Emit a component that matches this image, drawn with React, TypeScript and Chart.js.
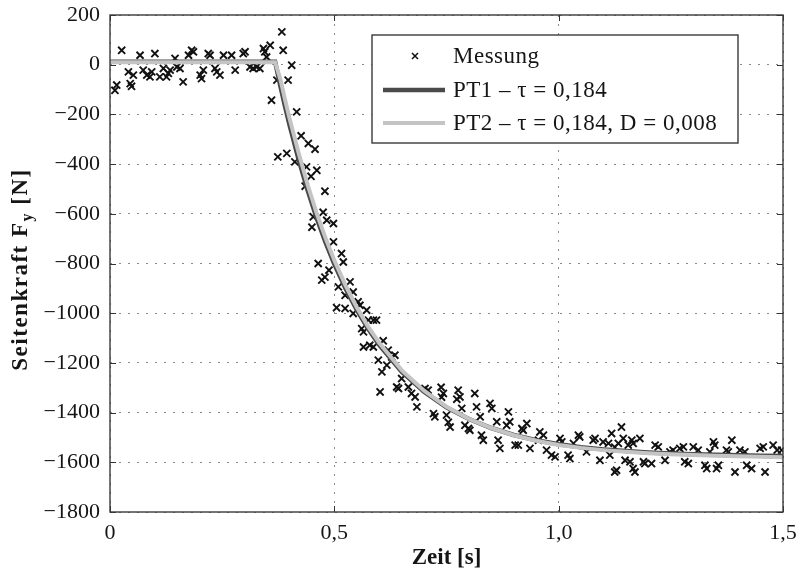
import React, { useEffect, useRef } from "react";
import { Chart, registerables } from "chart.js";

Chart.register(...registerables);

// Measurement (Messung): time [s] and side force [N]
const measTime = [
  0.011, 0.015, 0.026, 0.041, 0.045, 0.048, 0.052, 0.067, 0.074, 0.082, 0.089, 0.093, 0.1, 0.111, 0.119, 0.126, 0.13, 0.134, 0.145, 0.149,
  0.156, 0.163, 0.175, 0.182, 0.186, 0.201, 0.204, 0.208, 0.219, 0.223, 0.234, 0.238, 0.245, 0.253, 0.271, 0.279, 0.297, 0.301, 0.312, 0.319,
  0.327, 0.334, 0.342, 0.345, 0.349, 0.357, 0.36, 0.372, 0.374, 0.383, 0.386, 0.394, 0.397, 0.405, 0.412, 0.416, 0.426, 0.438, 0.442, 0.448,
  0.435, 0.457, 0.461, 0.479, 0.453, 0.475, 0.483, 0.498, 0.45, 0.498, 0.516, 0.52, 0.464, 0.488, 0.479, 0.472, 0.509, 0.535, 0.524, 0.542,
  0.553, 0.557, 0.505, 0.524, 0.542, 0.572, 0.576, 0.587, 0.594, 0.561, 0.565, 0.609, 0.62, 0.565, 0.579, 0.587, 0.598, 0.617, 0.606, 0.628,
  0.635, 0.65, 0.639, 0.643, 0.602, 0.665, 0.672, 0.68, 0.684, 0.702, 0.709, 0.738, 0.743, 0.739, 0.721, 0.724, 0.754, 0.75, 0.758, 0.773,
  0.776, 0.78, 0.784, 0.813, 0.817, 0.825, 0.847, 0.851, 0.791, 0.799, 0.802, 0.828, 0.832, 0.862, 0.865, 0.869, 0.888, 0.891, 0.884, 0.903,
  0.91, 0.918, 0.921, 0.929, 0.936, 0.958, 0.966, 0.955, 0.973, 0.984, 0.992, 1.003, 1.007, 1.021, 1.025, 1.044, 1.047, 1.033, 1.062, 1.077,
  1.081, 1.092, 1.099, 1.111, 1.118, 1.125, 1.114, 1.14, 1.125, 1.129, 1.133, 1.144, 1.155, 1.163, 1.166, 1.181, 1.148, 1.159, 1.166, 1.17,
  1.189, 1.192, 1.207, 1.215, 1.222, 1.248, 1.255, 1.237, 1.281, 1.289, 1.27, 1.278, 1.3, 1.311, 1.326, 1.33, 1.337, 1.345, 1.348, 1.356,
  1.352, 1.374, 1.378, 1.386, 1.393, 1.404, 1.415, 1.419, 1.43, 1.449, 1.456, 1.46, 1.478, 1.487, 1.497,
];
const measForce = [
  -103, -82, 58, -29, -76, -87, -42, 38, -22, -42, -49, -29, 45, -49, -15, -49, -35, -22, 25, -9,
  -15, -69, 38, 58, 52, -42, -56, -22, 45, 38, -15, -29, -42, 38, 38, -22, 45, 52, -9, -15,
  -9, -15, 65, 52, 31, 78, -143, -62, -371, 132, 58, -357, -62, -2, -391, -190, -286, -411, -317, -449,
  -489, -340, -425, -509, -612, -594, -626, -639, -654, -713, -760, -794, -800, -827, -855, -867, -894, -874, -928, -915,
  -954, -968, -978, -981, -1001, -988, -1028, -1028, -1028, -1062, -1075, -1111, -1149, -1136, -1129, -1136, -1189, -1209, -1236, -1176,
  -1169, -1263, -1297, -1303, -1317, -1297, -1323, -1337, -1377, -1303, -1310, -1298, -1323, -1338, -1404, -1417, -1439, -1410, -1458, -1346,
  -1310, -1337, -1383, -1323, -1377, -1417, -1363, -1383, -1451, -1464, -1471, -1491, -1511, -1437, -1511, -1544, -1397, -1437, -1451, -1531,
  -1531, -1464, -1471, -1444, -1544, -1478, -1491, -1511, -1551, -1571, -1578, -1504, -1518, -1571, -1585, -1491, -1498, -1524, -1558, -1511,
  -1504, -1592, -1518, -1524, -1484, -1539, -1571, -1458, -1639, -1632, -1524, -1504, -1531, -1511, -1524, -1504, -1592, -1598, -1625, -1639,
  -1598, -1605, -1605, -1531, -1538, -1558, -1551, -1592, -1598, -1605, -1544, -1538, -1538, -1551, -1612, -1625, -1558, -1518, -1531, -1612,
  -1625, -1551, -1558, -1511, -1639, -1551, -1558, -1612, -1625, -1544, -1538, -1639, -1531, -1551, -1551,
];

// Model curves
const modelTime = [
  0, 0.368, 0.38, 0.39, 0.4, 0.42, 0.44, 0.46, 0.48, 0.5, 0.525, 0.55, 0.575, 0.6, 0.65, 0.7,
  0.75, 0.8, 0.85, 0.9, 0.95, 1.0, 1.05, 1.1, 1.15, 1.2, 1.25, 1.3, 1.35, 1.4, 1.45, 1.5,
];
const pt1Force = [
  12, 12, -88, -167, -242, -379, -503, -614, -713, -802, -901, -987, -1062, -1127, -1235, -1316,
  -1379, -1426, -1462, -1490, -1511, -1527, -1539, -1548, -1555, -1561, -1565, -1568, -1570, -1572, -1574, -1575,
];
const pt2Force = [
  10, 10, -60, -140, -215, -352, -480, -594, -696, -787, -888, -976, -1053, -1119, -1229, -1312,
  -1377, -1425, -1462, -1491, -1513, -1530, -1542, -1551, -1558, -1564, -1568, -1571, -1574, -1576, -1578, -1580,
];

const xTicks = [0, 0.5, 1.0, 1.5];
const xTickLabels = ["0", "0,5", "1,0", "1,5"];
const seriesLabels = ["Messung", "PT1 \u2013 \u03c4 = 0,184", "PT2 \u2013 \u03c4 = 0,184, D = 0,008"];

const SERIF = "'Liberation Serif', 'DejaVu Serif', serif";
const TEXT = "#151515";

const fmtY = (v: number) => (v < 0 ? "\u2212" + Math.abs(v) : String(v));

const framePlugin = {
  id: "frame",
  afterDraw(chart: any) {
    const { ctx, chartArea: a, scales } = chart;
    ctx.save();
    // ticks pointing inward on all four sides
    ctx.strokeStyle = "#333";
    ctx.lineWidth = 1;
    const tl = 6;
    scales.x.ticks.forEach((t: any) => {
      const px = Math.round(scales.x.getPixelForValue(t.value)) + 0.5;
      ctx.beginPath();
      ctx.moveTo(px, a.bottom);
      ctx.lineTo(px, a.bottom - tl);
      ctx.moveTo(px, a.top);
      ctx.lineTo(px, a.top + tl);
      ctx.stroke();
    });
    scales.y.ticks.forEach((t: any) => {
      const py = Math.round(scales.y.getPixelForValue(t.value)) + 0.5;
      ctx.beginPath();
      ctx.moveTo(a.left, py);
      ctx.lineTo(a.left + tl, py);
      ctx.moveTo(a.right, py);
      ctx.lineTo(a.right - tl, py);
      ctx.stroke();
    });
    // box
    ctx.strokeStyle = "#3a3a3a";
    ctx.lineWidth = 1.4;
    ctx.strokeRect(a.left, a.top, a.right - a.left, a.bottom - a.top);

    // y axis title with subscript
    const cy = (a.top + a.bottom) / 2 + 6;
    ctx.translate(21, cy);
    ctx.rotate(-Math.PI / 2);
    ctx.fillStyle = TEXT;
    ctx.textBaseline = "middle";
    try {
      (ctx as any).letterSpacing = "1.5px";
    } catch (e) {}
    const big = "bold 23px " + SERIF;
    const small = "bold 16px " + SERIF;
    const p1 = "Seitenkraft F";
    const p2 = "y";
    const p3 = " [N]";
    ctx.font = big;
    const w1 = ctx.measureText(p1).width;
    const w3 = ctx.measureText(p3).width;
    ctx.font = small;
    const w2 = ctx.measureText(p2).width;
    let x = -(w1 + w2 + w3) / 2;
    ctx.font = big;
    ctx.fillText(p1, x, 0);
    x += w1;
    ctx.font = small;
    ctx.fillText(p2, x, 7);
    x += w2;
    ctx.font = big;
    ctx.fillText(p3, x, 0);
    ctx.restore();

    // legend
    const ds = chart.data.datasets;
    const lx = a.left + 262;
    const ly = a.top + 20;
    const lw = 366;
    const lh = 108;
    ctx.save();
    ctx.fillStyle = "#ffffff";
    ctx.fillRect(lx, ly, lw, lh);
    ctx.strokeStyle = "#3a3a3a";
    ctx.lineWidth = 1.4;
    ctx.strokeRect(lx, ly, lw, lh);
    const rows = [21, 55, 88];
    const order = [2, 1, 0];
    ctx.font = "23px " + SERIF;
    try {
      (ctx as any).letterSpacing = "0.5px";
    } catch (e) {}
    ctx.textBaseline = "middle";
    order.forEach((di, r) => {
      const d = ds[di];
      const y = ly + rows[r];
      if (di === 2) {
        const cx = lx + 43;
        const s = 3;
        ctx.strokeStyle = d.borderColor;
        ctx.lineWidth = 1.5;
        ctx.beginPath();
        ctx.moveTo(cx - s, y - s);
        ctx.lineTo(cx + s, y + s);
        ctx.moveTo(cx + s, y - s);
        ctx.lineTo(cx - s, y + s);
        ctx.stroke();
      } else {
        ctx.strokeStyle = d.borderColor;
        ctx.lineWidth = d.borderWidth;
        ctx.beginPath();
        ctx.moveTo(lx + 11, y);
        ctx.lineTo(lx + 73, y);
        ctx.stroke();
      }
      ctx.fillStyle = TEXT;
      ctx.fillText(d.label, lx + 81, y + 1);
    });
    ctx.restore();
  },
};

export default function App() {
  const ref = useRef<HTMLCanvasElement | null>(null);
  useEffect(() => {
    document.body.style.margin = "0";
    const canvas = ref.current;
    if (!canvas) return;
    const chart = new Chart(canvas, {
      type: "scatter",
      data: {
        datasets: [
          {
            label: seriesLabels[2],
            type: "line",
            data: modelTime.map((t, i) => ({ x: t, y: pt2Force[i] })),
            borderColor: "#c4c4c4",
            borderWidth: 4,
            pointRadius: 0,
            tension: 0,
            order: 0,
          },
          {
            label: seriesLabels[1],
            type: "line",
            data: modelTime.map((t, i) => ({ x: t, y: pt1Force[i] })),
            borderColor: "#4a4a4a",
            borderWidth: 4.5,
            pointRadius: 0,
            tension: 0,
            order: 1,
          },
          {
            label: seriesLabels[0],
            data: measTime.map((t, i) => ({ x: t, y: measForce[i] })),
            pointStyle: "crossRot",
            pointRadius: 5,
            borderColor: "#111111",
            borderWidth: 1.9,
            backgroundColor: "#111111",
            showLine: false,
            order: 2,
          },
        ],
      },
      options: {
        responsive: false,
        animation: false,
        layout: { padding: { top: 15, right: 16, left: 0, bottom: 0 } },
        plugins: { legend: { display: false }, tooltip: { enabled: false } },
        scales: {
          x: {
            type: "linear",
            min: 0,
            max: 1.5,
            afterBuildTicks: (s: any) => {
              s.ticks = xTicks.map((v) => ({ value: v }));
            },
            afterFit: (s: any) => {
              s.height = 62;
              s.paddingLeft = 0;
              s.paddingRight = 0;
            },
            ticks: {
              font: { family: SERIF, size: 22 },
              color: TEXT,
              padding: 8,
              maxRotation: 0,
              callback: (v: any) => {
                const i = xTicks.indexOf(Number(v));
                return i >= 0 ? xTickLabels[i] : "";
              },
            },
            grid: { color: "#8a8a8a", lineWidth: 1, drawTicks: false },
            border: { display: false, dash: [2, 7] },
            title: {
              display: true,
              text: "Zeit [s]",
              font: { family: SERIF, size: 23, weight: "bold" },
              color: TEXT,
              padding: { top: 0, bottom: 2 },
            },
          },
          y: {
            type: "linear",
            min: -1800,
            max: 200,
            afterFit: (s: any) => {
              s.width = 110;
              s.paddingTop = 0;
              s.paddingBottom = 0;
            },
            ticks: {
              stepSize: 200,
              font: { family: SERIF, size: 22 },
              color: TEXT,
              padding: 10,
              callback: (v: any) => fmtY(Number(v)),
            },
            grid: { color: "#8a8a8a", lineWidth: 1, drawTicks: false },
            border: { display: false, dash: [2, 7] },
          },
        },
      },
      plugins: [framePlugin],
    } as any);
    return () => chart.destroy();
  }, []);
  return (
    <div style={{ position: "absolute", left: 0, top: 0, width: 799, height: 574 }}>
      <canvas ref={ref} width={799} height={574} style={{ display: "block" }} />
    </div>
  );
}
